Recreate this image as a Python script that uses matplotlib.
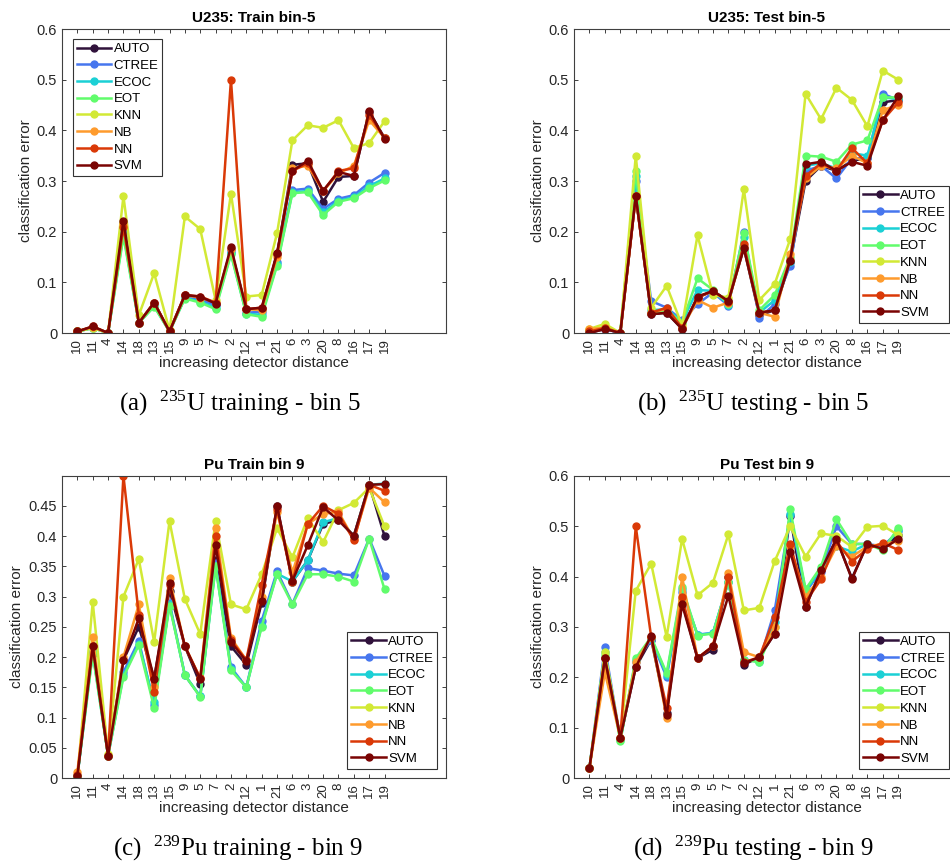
import numpy as np
import matplotlib
matplotlib.use('Agg')
import matplotlib.pyplot as plt

plt.rcParams['font.family'] = ['Liberation Sans', 'DejaVu Sans']
plt.rcParams['mathtext.fontset'] = 'custom'
plt.rcParams['mathtext.rm'] = 'Liberation Serif'
plt.rcParams['mathtext.it'] = 'Liberation Serif'

# detector order (increasing distance)
detectors = ['10', '11', '4', '14', '18', '13', '15', '9', '5', '7', '2', '12', '1', '21', '6', '3', '20', '8', '16', '17', '19']
methods = ['AUTO', 'CTREE', 'ECOC', 'EOT', 'KNN', 'NB', 'NN', 'SVM']

# U235 train, bin 5 (rows follow `methods`)
u235_train = [
    [0.003, 0.012, 0.0, 0.215, 0.02, 0.06, 0.003, 0.075, 0.07, 0.057, 0.165, 0.047, 0.048, 0.155, 0.332, 0.335, 0.259, 0.308, 0.31, 0.437, 0.385],
    [0.003, 0.01, 0.0, 0.2, 0.02, 0.055, 0.003, 0.07, 0.065, 0.055, 0.16, 0.04, 0.042, 0.14, 0.282, 0.285, 0.245, 0.265, 0.272, 0.297, 0.316],
    [0.003, 0.01, 0.0, 0.195, 0.02, 0.053, 0.003, 0.069, 0.062, 0.05, 0.157, 0.038, 0.036, 0.136, 0.278, 0.28, 0.238, 0.261, 0.268, 0.29, 0.305],
    [0.003, 0.01, 0.0, 0.19, 0.02, 0.052, 0.003, 0.068, 0.06, 0.047, 0.155, 0.037, 0.032, 0.133, 0.276, 0.278, 0.233, 0.259, 0.266, 0.286, 0.301],
    [0.003, 0.01, 0.0, 0.27, 0.035, 0.118, 0.005, 0.23, 0.205, 0.065, 0.275, 0.072, 0.075, 0.197, 0.38, 0.41, 0.405, 0.42, 0.365, 0.375, 0.418],
    [0.003, 0.012, 0.0, 0.215, 0.02, 0.06, 0.003, 0.075, 0.07, 0.06, 0.165, 0.047, 0.045, 0.15, 0.325, 0.33, 0.28, 0.315, 0.33, 0.42, 0.385],
    [0.003, 0.013, 0.0, 0.21, 0.02, 0.06, 0.003, 0.075, 0.072, 0.06, 0.5, 0.047, 0.05, 0.155, 0.32, 0.335, 0.28, 0.32, 0.325, 0.43, 0.385],
    [0.003, 0.013, 0.0, 0.222, 0.02, 0.06, 0.003, 0.075, 0.072, 0.058, 0.17, 0.047, 0.05, 0.158, 0.32, 0.34, 0.281, 0.318, 0.31, 0.438, 0.383],
]

# U235 test, bin 5
u235_test = [
    [0.0, 0.008, 0.0, 0.27, 0.037, 0.04, 0.008, 0.07, 0.083, 0.063, 0.168, 0.035, 0.045, 0.14, 0.3, 0.33, 0.32, 0.34, 0.345, 0.455, 0.46],
    [0.003, 0.008, 0.0, 0.3, 0.063, 0.05, 0.025, 0.057, 0.08, 0.054, 0.2, 0.03, 0.057, 0.133, 0.32, 0.33, 0.305, 0.345, 0.345, 0.472, 0.46],
    [0.004, 0.01, 0.0, 0.31, 0.045, 0.047, 0.022, 0.085, 0.083, 0.056, 0.19, 0.04, 0.065, 0.14, 0.33, 0.335, 0.325, 0.355, 0.35, 0.465, 0.462],
    [0.005, 0.012, 0.0, 0.32, 0.04, 0.045, 0.02, 0.108, 0.085, 0.058, 0.197, 0.045, 0.075, 0.15, 0.35, 0.348, 0.338, 0.372, 0.38, 0.465, 0.465],
    [0.008, 0.018, 0.0, 0.35, 0.05, 0.093, 0.015, 0.193, 0.075, 0.07, 0.284, 0.065, 0.097, 0.185, 0.472, 0.422, 0.484, 0.46, 0.408, 0.518, 0.5],
    [0.008, 0.01, 0.0, 0.27, 0.04, 0.048, 0.01, 0.065, 0.05, 0.06, 0.17, 0.04, 0.032, 0.155, 0.305, 0.33, 0.325, 0.35, 0.335, 0.44, 0.45],
    [0.003, 0.01, 0.0, 0.27, 0.04, 0.05, 0.01, 0.07, 0.083, 0.062, 0.175, 0.04, 0.045, 0.145, 0.31, 0.335, 0.32, 0.365, 0.335, 0.42, 0.455],
    [0.0, 0.008, 0.0, 0.271, 0.037, 0.04, 0.008, 0.072, 0.083, 0.063, 0.167, 0.04, 0.045, 0.143, 0.333, 0.338, 0.32, 0.338, 0.33, 0.42, 0.467],
]

# Pu train, bin 9
pu_train = [
    [0.003, 0.218, 0.037, 0.195, 0.25, 0.165, 0.31, 0.218, 0.155, 0.36, 0.218, 0.187, 0.29, 0.45, 0.325, 0.36, 0.42, 0.427, 0.4, 0.485, 0.4],
    [0.003, 0.21, 0.037, 0.175, 0.227, 0.12, 0.29, 0.17, 0.135, 0.355, 0.183, 0.15, 0.26, 0.342, 0.288, 0.347, 0.343, 0.338, 0.335, 0.396, 0.334],
    [0.003, 0.208, 0.037, 0.17, 0.222, 0.125, 0.287, 0.17, 0.135, 0.35, 0.18, 0.15, 0.252, 0.338, 0.325, 0.36, 0.423, 0.43, 0.4, 0.485, 0.487],
    [0.003, 0.205, 0.037, 0.167, 0.22, 0.116, 0.285, 0.17, 0.134, 0.35, 0.178, 0.15, 0.25, 0.337, 0.287, 0.337, 0.337, 0.333, 0.325, 0.396, 0.312],
    [0.0, 0.291, 0.04, 0.3, 0.362, 0.225, 0.425, 0.296, 0.238, 0.425, 0.287, 0.279, 0.337, 0.413, 0.365, 0.43, 0.39, 0.443, 0.455, 0.48, 0.416],
    [0.01, 0.233, 0.037, 0.2, 0.287, 0.15, 0.33, 0.218, 0.165, 0.413, 0.232, 0.195, 0.3, 0.44, 0.34, 0.42, 0.437, 0.44, 0.395, 0.48, 0.456],
    [0.005, 0.218, 0.037, 0.5, 0.27, 0.142, 0.32, 0.218, 0.165, 0.4, 0.228, 0.195, 0.32, 0.445, 0.325, 0.42, 0.45, 0.437, 0.393, 0.485, 0.475],
    [0.003, 0.218, 0.037, 0.195, 0.264, 0.164, 0.322, 0.218, 0.163, 0.385, 0.225, 0.193, 0.293, 0.45, 0.326, 0.385, 0.448, 0.426, 0.401, 0.485, 0.486],
]

# Pu test, bin 9
pu_test = [
    [0.02, 0.238, 0.08, 0.22, 0.275, 0.13, 0.35, 0.238, 0.255, 0.4, 0.225, 0.24, 0.287, 0.52, 0.34, 0.413, 0.475, 0.397, 0.465, 0.455, 0.483],
    [0.02, 0.26, 0.078, 0.23, 0.275, 0.2, 0.37, 0.285, 0.288, 0.39, 0.235, 0.232, 0.333, 0.522, 0.37, 0.41, 0.5, 0.465, 0.465, 0.46, 0.49],
    [0.02, 0.25, 0.075, 0.235, 0.278, 0.205, 0.375, 0.284, 0.288, 0.39, 0.235, 0.231, 0.31, 0.525, 0.372, 0.415, 0.46, 0.45, 0.465, 0.455, 0.493],
    [0.02, 0.245, 0.073, 0.238, 0.28, 0.208, 0.38, 0.283, 0.287, 0.39, 0.235, 0.23, 0.3, 0.534, 0.375, 0.42, 0.514, 0.465, 0.465, 0.452, 0.497],
    [0.02, 0.25, 0.08, 0.372, 0.426, 0.28, 0.475, 0.363, 0.388, 0.484, 0.333, 0.338, 0.431, 0.5, 0.44, 0.486, 0.481, 0.459, 0.499, 0.501, 0.483],
    [0.02, 0.21, 0.08, 0.23, 0.28, 0.12, 0.4, 0.238, 0.262, 0.408, 0.25, 0.24, 0.3, 0.46, 0.36, 0.4, 0.46, 0.44, 0.46, 0.465, 0.47],
    [0.02, 0.238, 0.08, 0.5, 0.28, 0.14, 0.36, 0.238, 0.262, 0.4, 0.23, 0.24, 0.32, 0.465, 0.35, 0.395, 0.47, 0.43, 0.455, 0.467, 0.453],
    [0.02, 0.238, 0.08, 0.22, 0.283, 0.125, 0.345, 0.238, 0.262, 0.362, 0.228, 0.24, 0.287, 0.45, 0.34, 0.413, 0.475, 0.395, 0.465, 0.455, 0.475],
]

colors = plt.cm.turbo(np.linspace(0, 1, len(methods)))
edge = '#404040'
txt = '#262626'

fig = plt.figure(figsize=(9.5, 8.66), dpi=100)

panels = [
    # data, title, caption, axes rect, ylim, yticks, legend loc, legend anchor, caption x
    (u235_train, 'U235: Train bin-5', r'(a)  $^{235}$U training - bin 5',
     [62/950, 1-333/866, 384/950, 304/866], 0.6, np.arange(0, 0.61, 0.1), 'upper left', (0.028, 0.967), 240/950),
    (u235_test, 'U235: Test bin-5', r'(b)  $^{235}$U testing - bin 5',
     [574/950, 1-333/866, 386/950, 304/866], 0.6, np.arange(0, 0.61, 0.1), 'lower right', (0.9715, 0.033), 753/950),
    (pu_train, 'Pu Train bin 9', r'(c)  $^{239}$Pu training - bin 9',
     [62/950, 1-778/866, 384/950, 302/866], 0.4995, np.arange(0, 0.451, 0.05), 'lower right', (0.977, 0.03), 238/950),
    (pu_test, 'Pu Test bin 9', r'(d)  $^{239}$Pu testing - bin 9',
     [574/950, 1-778/866, 386/950, 302/866], 0.6, np.arange(0, 0.61, 0.1), 'lower right', (0.9715, 0.03), 753/950),
]

x = np.arange(1, len(detectors) + 1)

for data, title, caption, rect, ytop, yticks, lloc, lanchor, cx in panels:
    ax = fig.add_axes(rect)
    for i, m in enumerate(methods):
        ax.plot(x, data[i], '-o', color=colors[i], lw=1.8, ms=5, label=m)
    ax.set_xlim(0, 25)
    ax.set_ylim(0, ytop)
    ax.set_yticks(yticks)
    ax.set_yticklabels(['0' if v == 0 else f'{v:g}' for v in yticks])
    ax.set_xticks(x)
    ax.set_xticklabels(detectors, rotation=90)
    ax.tick_params(direction='in', top=True, right=True, length=3, width=0.7,
                   color=edge, labelcolor=txt, labelsize=9.5)
    ax.tick_params(axis='y', labelsize=10.5)
    for sp in ax.spines.values():
        sp.set_color(edge)
        sp.set_linewidth(0.8)
    ax.set_title(title, fontsize=11, fontweight='bold', pad=5)
    ax.set_ylabel('classification error', fontsize=11, color=txt, labelpad=3)
    ax.set_xlabel('increasing detector distance', fontsize=11, color=txt, labelpad=2)
    leg = ax.legend(loc=lloc, bbox_to_anchor=lanchor, borderaxespad=0, fontsize=9.5,
                    handlelength=2.6, labelspacing=0.34, fancybox=False,
                    framealpha=1, edgecolor='#333333', borderpad=0.3, handletextpad=0.2)
    leg.get_frame().set_linewidth(0.8)
    cy = rect[1] - 70 / 866
    fig.text(cx, cy, caption, fontsize=18, family='Liberation Serif', ha='center', va='center')

fig.savefig('out.png', dpi=100)
